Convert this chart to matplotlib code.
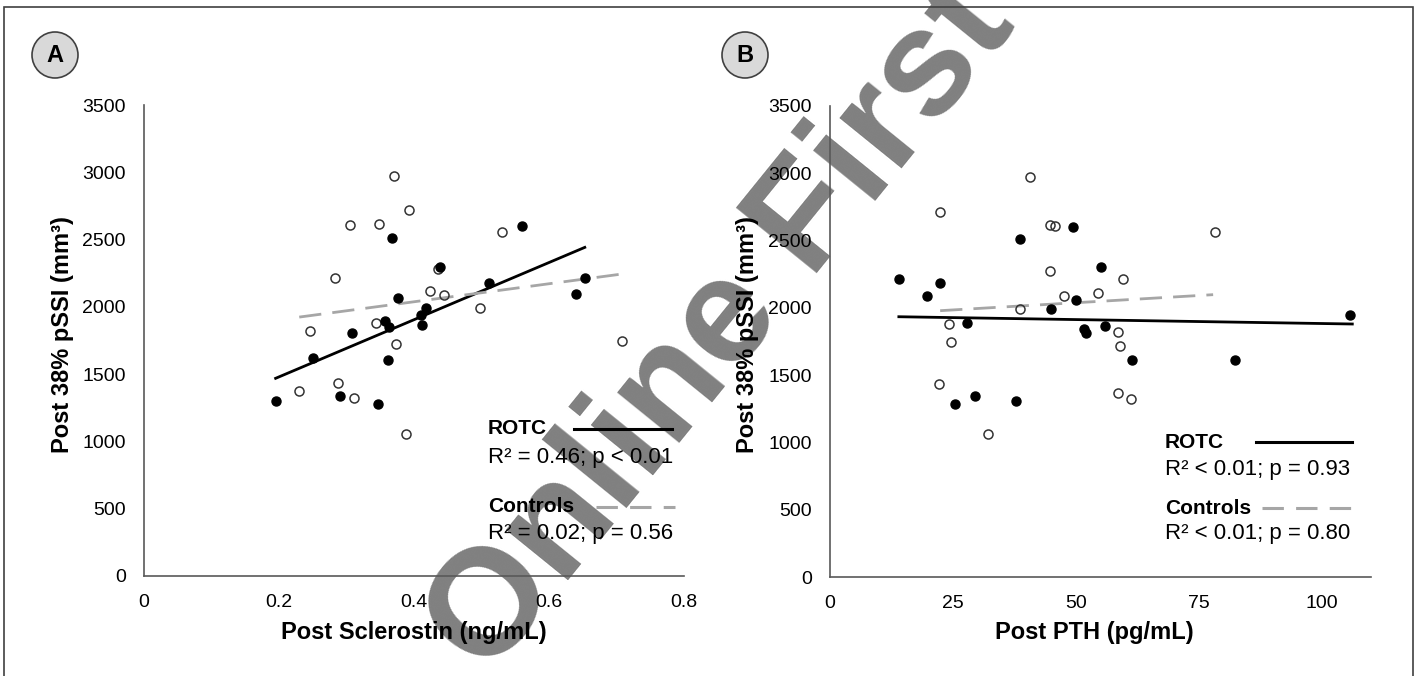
import numpy as np
import matplotlib
matplotlib.use("Agg")
import matplotlib.pyplot as plt
from matplotlib.patches import Ellipse, Rectangle
from matplotlib.lines import Line2D

plt.rcParams['font.family'] = ['Liberation Sans', 'DejaVu Sans']

# panel A: sclerostin (ng/mL) vs pSSI (mm^3)
scl_rotc_x = [0.368, 0.376, 0.418, 0.411, 0.412, 0.357, 0.363, 0.308, 0.251,
              0.361, 0.196, 0.290, 0.347, 0.439, 0.560, 0.511, 0.640, 0.653]
scl_rotc_y = [2512, 2063, 1993, 1941, 1864, 1897, 1850, 1807, 1618,
              1608, 1303, 1340, 1278, 2298, 2599, 2179, 2093, 2211]
scl_ctrl_x = [0.370, 0.393, 0.305, 0.348, 0.283, 0.423, 0.435, 0.246, 0.343,
              0.374, 0.287, 0.230, 0.311, 0.388, 0.531, 0.445, 0.498, 0.708]
scl_ctrl_y = [2971, 2718, 2606, 2616, 2211, 2117, 2278, 1824, 1882,
              1722, 1437, 1375, 1325, 1055, 2559, 2085, 1990, 1745]
# trendline end points
scl_rotc_fit_x = [0.195, 0.653]
scl_rotc_fit_y = [1469, 2442]
scl_ctrl_fit_x = [0.230, 0.708]
scl_ctrl_fit_y = [1924, 2244]

# panel B: PTH (pg/mL) vs pSSI
pth_rotc_x = [14.0, 22.3, 19.8, 27.8, 38.6, 49.5, 55.0, 50.1, 44.9,
              51.6, 52.0, 55.9, 25.4, 29.5, 37.8, 61.5, 82.3, 105.8]
pth_rotc_y = [2214, 2182, 2088, 1890, 2514, 2600, 2301, 2056, 1993,
              1845, 1811, 1867, 1283, 1345, 1308, 1612, 1612, 1944]
pth_ctrl_x = [40.6, 22.4, 44.7, 45.8, 44.7, 47.5, 54.5, 38.6, 24.2,
              24.7, 22.2, 32.2, 58.6, 59.0, 58.5, 61.1, 59.6, 78.2]
pth_ctrl_y = [2972, 2710, 2618, 2608, 2276, 2088, 2110, 1991, 1882,
              1748, 1432, 1060, 1819, 1716, 1369, 1322, 2214, 2561]
pth_rotc_fit_x = [14.0, 106.2]
pth_rotc_fit_y = [1934, 1880]
pth_ctrl_fit_x = [22.4, 77.9]
pth_ctrl_fit_y = [1979, 2098]

stats_a = ["R\u00b2 = 0.46; p < 0.01", "R\u00b2 = 0.02; p = 0.56"]
stats_b = ["R\u00b2 < 0.01; p = 0.93", "R\u00b2 < 0.01; p = 0.80"]

W, H = 1418, 676
fig = plt.figure(figsize=(W / 100, H / 100), dpi=100)


def fx(px):
    return px / W


def fy(py):
    return 1 - py / H


# watermark behind everything
fig.text(fx(723), fy(328), "Online First", fontsize=109, fontweight='bold',
         color='#808080', rotation=51, rotation_mode='anchor',
         ha='center', va='center', zorder=0)

# outer frame
fig.patches.append(Rectangle((fx(4), -0.05), fx(1413) - fx(4), fy(7) + 0.05,
                             transform=fig.transFigure, fill=False,
                             edgecolor='#404040', lw=1.2, zorder=0.5))


def panel(rect, rx, ry, cx, cy, rfit, cfit, xlim, xticks, xticklabels):
    ax = fig.add_axes(rect, zorder=1)
    ax.set_facecolor('none')
    for s in ['top', 'right']:
        ax.spines[s].set_visible(False)
    for s in ['left', 'bottom']:
        ax.spines[s].set_color('#595959')
        ax.spines[s].set_linewidth(1.2)
    ax.set_xlim(*xlim)
    ax.set_ylim(0, 3500)
    ax.set_yticks(range(0, 3501, 500))
    ax.set_xticks(xticks)
    ax.set_xticklabels(xticklabels)
    ax.tick_params(axis='both', length=0, labelsize=14)
    ax.tick_params(axis='y', pad=13)
    ax.tick_params(axis='x', pad=13)
    ax.plot(rfit[0], rfit[1], color='black', lw=2, zorder=2)
    ax.plot(cfit[0], cfit[1], color='#a6a6a6', lw=2, ls=(0, (8, 4)), zorder=2)
    ax.plot(cx, cy, 'o', ms=6.5, mfc='none', mec='#333333', mew=1.1,
            ls='none', zorder=3)
    ax.plot(rx, ry, 'o', ms=6.5, mfc='black', mec='black', ls='none', zorder=3)
    return ax


ax_a = panel([fx(144), fy(576), fx(684) - fx(144), fy(105) - fy(576)],
             scl_rotc_x, scl_rotc_y, scl_ctrl_x, scl_ctrl_y,
             (scl_rotc_fit_x, scl_rotc_fit_y), (scl_ctrl_fit_x, scl_ctrl_fit_y),
             (0, 0.8), [0, 0.2, 0.4, 0.6, 0.8], ['0', '0.2', '0.4', '0.6', '0.8'])
ax_b = panel([fx(830), fy(577), fx(1371) - fx(830), fy(106) - fy(577)],
             pth_rotc_x, pth_rotc_y, pth_ctrl_x, pth_ctrl_y,
             (pth_rotc_fit_x, pth_rotc_fit_y), (pth_ctrl_fit_x, pth_ctrl_fit_y),
             (0, 110), [0, 25, 50, 75, 100], ['0', '25', '50', '75', '100'])

# axis titles
ylab = "Post 38% pSSI (mm\u00b3)"
fig.text(fx(63), fy(335), ylab, rotation=90, fontsize=17, fontweight='bold',
         ha='center', va='center', zorder=3)
fig.text(fx(748), fy(335), ylab, rotation=90, fontsize=17, fontweight='bold',
         ha='center', va='center', zorder=3)
fig.text(fx(414), fy(632), "Post Sclerostin (ng/mL)", fontsize=17,
         fontweight='bold', ha='center', va='center', zorder=3)
fig.text(fx(1094), fy(632), "Post PTH (pg/mL)", fontsize=17,
         fontweight='bold', ha='center', va='center', zorder=3)


def legend_block(x0, y_rotc, y_ctrl, seg_rotc, seg_ctrl, stats):
    fig.text(fx(x0), fy(y_rotc), "ROTC", fontsize=15, fontweight='bold',
             ha='left', va='center', zorder=3)
    fig.lines.append(Line2D([fx(seg_rotc[0]), fx(seg_rotc[1])],
                            [fy(y_rotc), fy(y_rotc)], transform=fig.transFigure,
                            color='black', lw=2.2, zorder=3))
    fig.text(fx(x0), fy(y_rotc + 28), stats[0], fontsize=16,
             ha='left', va='center', zorder=3)
    fig.text(fx(x0), fy(y_ctrl), "Controls", fontsize=15, fontweight='bold',
             ha='left', va='center', zorder=3)
    fig.lines.append(Line2D([fx(seg_ctrl[0]), fx(seg_ctrl[1])],
                            [fy(y_ctrl), fy(y_ctrl)], transform=fig.transFigure,
                            color='#a6a6a6', lw=2.2, ls=(0, (7, 4)), zorder=3))
    fig.text(fx(x0), fy(y_ctrl + 26), stats[1], fontsize=16,
             ha='left', va='center', zorder=3)


legend_block(488, 429, 507, (574, 672), (596, 675), stats_a)
legend_block(1165, 442, 508, (1256, 1352), (1262, 1354), stats_b)

# panel badges
for cxp, letter in [(55, "A"), (745, "B")]:
    fig.patches.append(Ellipse((fx(cxp), fy(55)), 46 / W, 46 / H,
                               transform=fig.transFigure, facecolor='#d9d9d9',
                               edgecolor='#404040', lw=1.2, zorder=3))
    fig.text(fx(cxp), fy(55), letter, fontsize=17, fontweight='bold',
             ha='center', va='center', zorder=4)

fig.savefig("out.png", dpi=100)
